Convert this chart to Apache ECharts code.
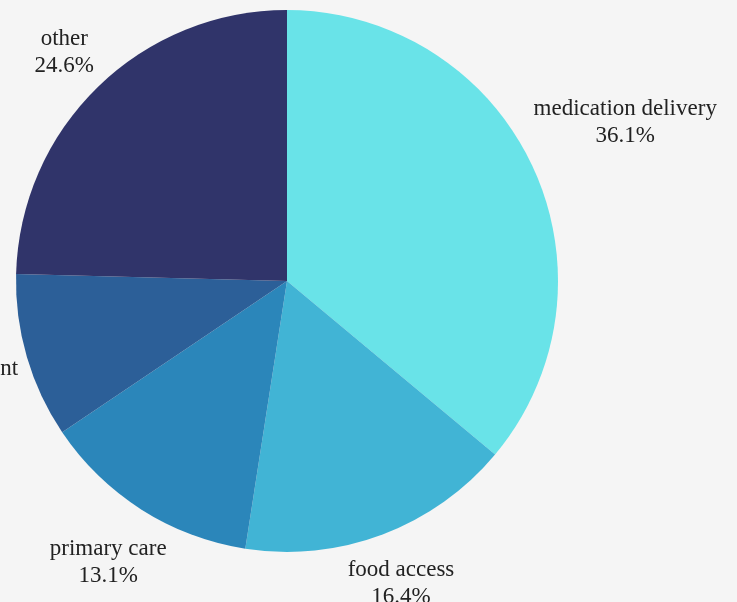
<!DOCTYPE html>
<html>
<head>
<meta charset="utf-8">
<script src="https://cdn.jsdelivr.net/npm/echarts@6/dist/echarts.min.js"></script>
<style>
  html, body { margin: 0; padding: 0; background: #f5f5f5; }
  #chart { width: 737px; height: 602px; }
</style>
</head>
<body>
<div id="chart"></div>
<script>
// slice data (counts, shares shown as percent)
const categories = ['medication delivery', 'food access', 'primary care', 'case management', 'other']
const values = [22, 10, 8, 6, 15]
const colors = ['#69e3e8', '#41b4d5', '#2b86ba', '#2c5f98', '#30346a']

const cx = 287
const cy = 281
const radius = 271
const labelGap = 8

const total = values.reduce((a, b) => a + b, 0)

// middle angle of each slice, clockwise from 12 o'clock
const midAngles = []
let acc = 0
values.forEach(v => {
  midAngles.push((acc + v / 2) / total * Math.PI * 2)
  acc += v
})

const chart = echarts.init(document.getElementById('chart'))
const option = {
  backgroundColor: '#f5f5f5',
  color: colors,
  series: [
    {
      type: 'pie',
      center: [cx, cy],
      radius: radius,
      startAngle: 90,
      clockwise: true,
      animation: false,
      avoidLabelOverlap: false,
      label: {
        show: true,
        position: 'outside',
        overflow: 'none',
        formatter: p => p.name + '\n' + p.percent.toFixed(1) + '%',
        fontFamily: 'Liberation Serif',
        fontSize: 23,
        lineHeight: 27,
        color: '#222'
      },
      labelLine: { show: false },
      // put each label just outside the rim, centred on the slice direction
      labelLayout: function (params) {
        const a = midAngles[params.dataIndex]
        const dx = Math.sin(a)
        const dy = -Math.cos(a)
        const w = params.labelRect.width / 2
        const h = params.labelRect.height / 2
        const d = radius + labelGap + Math.abs(dx) * w + Math.abs(dy) * h
        return {
          x: cx + d * dx,
          y: cy + d * dy,
          align: 'center',
          verticalAlign: 'middle'
        }
      },
      data: categories.map((name, i) => ({ name, value: values[i] }))
    }
  ]
}
option && chart.setOption(option)
</script>
</body>
</html>
